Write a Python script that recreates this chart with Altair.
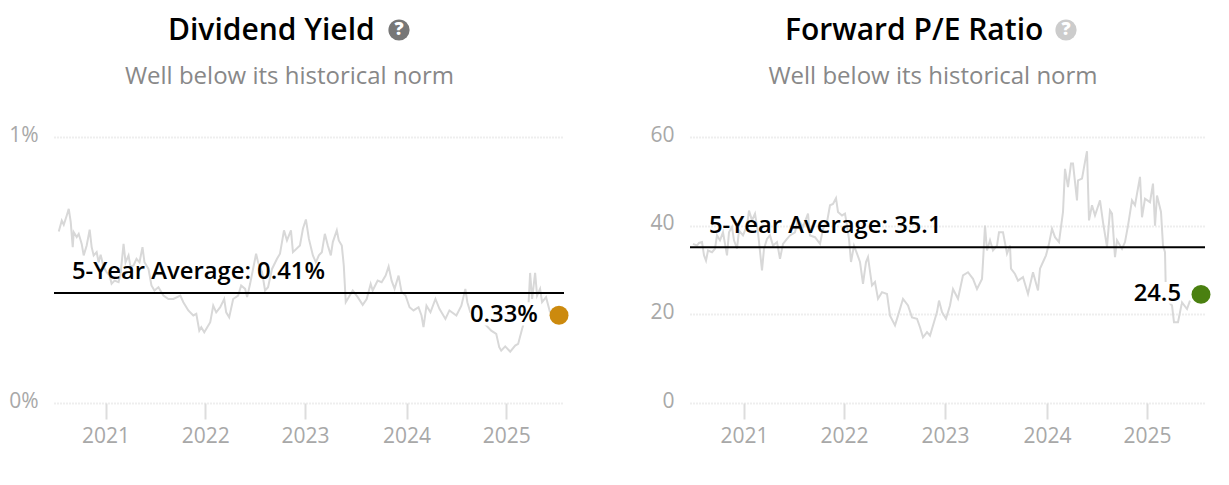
import altair as alt
import pandas as pd

FONT = "Open Sans"

div_year = [2020.53,2020.56,2020.58,2020.61,2020.63,2020.65,2020.67,2020.68,2020.71,2020.73,2020.76,2020.78,2020.81,2020.84,2020.86,2020.88,2020.91,2020.93,2020.95,2020.98,
2021.01,2021.04,2021.06,2021.09,2021.13,2021.15,2021.18,2021.20,2021.23,2021.25,2021.28,2021.31,2021.34,2021.37,2021.39,2021.43,2021.46,2021.49,2021.53,2021.58,2021.63,2021.68,2021.75,2021.78,2021.83,2021.88,2021.91,2021.94,2021.96,2021.99,
2022.02,2022.05,2022.08,2022.11,2022.15,2022.19,2022.21,2022.24,2022.28,2022.33,2022.36,2022.40,2022.42,2022.45,2022.51,2022.53,2022.57,2022.60,2022.63,2022.67,2022.72,2022.75,2022.79,2022.82,2022.86,2022.88,2022.95,2022.98,
2023.01,2023.04,2023.08,2023.11,2023.14,2023.17,2023.20,2023.23,2023.26,2023.28,2023.32,2023.34,2023.37,2023.39,2023.41,2023.45,2023.48,2023.53,2023.58,2023.62,2023.66,2023.68,2023.73,2023.77,2023.81,2023.84,2023.87,2023.90,2023.94,2023.97,
2024.01,2024.05,2024.09,2024.14,2024.17,2024.19,2024.22,2024.26,2024.31,2024.35,2024.41,2024.45,2024.52,2024.57,2024.61,2024.63,2024.66,2024.82,2024.87,2024.92,2024.95,2024.97,
2025.01,2025.06,2025.11,2025.14,2025.18,2025.21,2025.24,2025.26,2025.28,2025.31,2025.33,2025.36,2025.38,2025.42,2025.46]
div_val = [.645,.686,.670,.705,.730,.680,.586,.642,.624,.636,.598,.555,.592,.652,.586,.555,.567,.529,.557,.511,
.492,.479,.448,.460,.454,.486,.598,.529,.555,.511,.517,.542,.529,.586,.529,.504,.442,.423,.435,.404,.391,.391,.404,.379,.348,.329,.335,.272,.285,.266,
.285,.304,.366,.341,.360,.391,.341,.322,.391,.404,.442,.429,.398,.448,.561,.529,.492,.423,.435,.504,.542,.561,.649,.611,.649,.567,.592,.655,
.690,.617,.555,.529,.555,.567,.636,.592,.555,.605,.649,.611,.592,.517,.379,.404,.423,.398,.369,.391,.448,.423,.460,.454,.479,.513,.460,.429,.479,.417,
.404,.360,.348,.360,.329,.285,.366,.341,.391,.354,.316,.348,.329,.366,.429,.379,.341,.291,.272,.260,.210,.197,
.213,.193,.216,.222,.279,.316,.341,.489,.391,.489,.404,.429,.379,.398,.341]

pe_year = [2020.49,2020.53,2020.55,2020.58,2020.60,2020.62,2020.64,2020.68,2020.71,2020.73,2020.76,2020.79,2020.83,2020.85,2020.88,2020.90,2020.93,2020.95,2020.99,
2021.03,2021.05,2021.08,2021.11,2021.14,2021.18,2021.20,2021.23,2021.26,2021.29,2021.33,2021.36,2021.39,2021.43,2021.46,2021.51,2021.54,2021.59,2021.64,2021.66,2021.71,2021.76,2021.79,2021.83,2021.86,2021.89,2021.92,2021.94,2021.98,
2022.01,2022.03,2022.05,2022.07,2022.10,2022.13,2022.16,2022.19,2022.22,2022.24,2022.28,2022.31,2022.34,2022.38,2022.43,2022.46,2022.51,2022.54,2022.59,2022.64,2022.68,2022.73,2022.76,2022.79,2022.83,2022.86,2022.89,2022.93,2022.95,2022.98,
2023.02,2023.06,2023.09,2023.14,2023.19,2023.24,2023.29,2023.33,2023.38,2023.39,2023.41,2023.43,2023.46,2023.49,2023.53,2023.55,2023.59,2023.63,2023.66,2023.67,2023.71,2023.74,2023.79,2023.84,2023.89,2023.94,2023.96,2023.99,
2024.02,2024.05,2024.08,2024.11,2024.15,2024.19,2024.21,2024.24,2024.27,2024.29,2024.33,2024.34,2024.38,2024.41,2024.43,2024.45,2024.48,2024.51,2024.56,2024.59,2024.63,2024.66,2024.68,2024.71,2024.73,2024.78,2024.81,2024.84,2024.88,2024.91,2024.96,2024.98,
2025.01,2025.06,2025.09,2025.11,2025.13,2025.17,2025.19,2025.21,2025.22,2025.28,2025.30,2025.34,2025.38,2025.43,2025.46]
pe_val = [35.9,35.5,36.1,36.3,33.3,32.1,34.4,34.0,34.8,37.8,36.7,38.5,33.3,38.5,39.7,36.7,34.8,38.9,37.8,
40.0,43.4,41.2,42.7,38.5,29.9,34.8,37.0,37.8,35.5,36.3,32.5,35.9,37.0,37.8,38.5,41.6,39.7,42.7,37.8,37.4,35.9,39.3,40.8,44.6,44.9,46.2,43.1,42.3,
42.7,40.0,37.0,31.8,35.5,33.7,31.8,26.9,31.8,32.9,26.5,27.3,23.5,25.0,24.6,19.7,17.5,19.7,23.5,22.0,19.3,19.0,17.1,14.8,16.0,15.2,17.5,20.5,23.1,20.5,
19.0,22.0,25.7,23.5,28.8,29.5,28.0,25.7,28.0,31.8,40.0,34.4,36.7,34.4,35.5,38.5,38.5,33.7,35.5,30.3,29.1,27.6,28.4,24.6,29.5,25.4,30.3,31.8,
33.3,35.9,39.3,37.4,36.3,43.1,52.8,48.7,54.0,54.0,45.7,50.2,50.6,54.4,56.8,41.2,44.6,42.3,45.7,40.8,35.2,43.4,42.7,32.9,36.7,34.8,36.3,40.0,45.7,44.6,51.0,41.9,
46.1,45.3,49.5,40.0,46.8,43.1,35.5,34.0,23.5,22.0,18.2,18.2,22.7,21.2,23.1]

LINE, GRID, AXIS = "#d8d8d8", "#dddddd", "#a8a8a8"


def panel(title, subtitle, year, val, avg, avg_label, avg_x, cur, cur_label, cur_year,
          label_x, bg_x, bg_x2, bg_y, bg_y2, dot_color, icon_color, icon_x, head_x, ydomain, yticks, yexpr,
          ticks, xdomain, width, title_dx):
    xs = alt.Scale(domain=xdomain, nice=False, zero=False)
    ys = alt.Scale(domain=ydomain, nice=False, zero=False)
    line = alt.Chart(pd.DataFrame({"x": year, "y": val})).mark_line(
        color=LINE, strokeWidth=2, interpolate="linear"
    ).encode(
        x=alt.X("x:Q", scale=xs, title=None, axis=alt.Axis(
            values=ticks, labelExpr="floor(datum.value)", grid=False, domain=False,
            tickColor=GRID, tickWidth=2, tickSize=16, labelColor=AXIS, labelFont=FONT,
            labelFontSize=21, labelPadding=6, labelFlush=False, labelOverlap=False)),
        y=alt.Y("y:Q", scale=ys, title=None, axis=alt.Axis(
            values=yticks, labelExpr=yexpr, grid=True, gridColor=GRID, gridDash=[1, 2], gridWidth=2,
            domain=False, ticks=False, labelColor=AXIS, labelFont=FONT, labelFontSize=21,
            labelPadding=16, labelOverlap=False, labelOffset=-2)),
    )
    rule = alt.Chart(pd.DataFrame({"x": [xdomain[0]], "x2": [xdomain[1]], "y": [avg]})).mark_rule(
        color="#000000", strokeWidth=2
    ).encode(x=alt.X("x:Q", scale=xs), x2="x2:Q", y=alt.Y("y:Q", scale=ys))
    avg_text = alt.Chart(pd.DataFrame({"x": [avg_x], "y": [avg], "t": [avg_label]})).mark_text(
        align="left", baseline="middle", dy=-21, font=FONT, fontSize=23.8, fontWeight=600, color="#000000"
    ).encode(x=alt.X("x:Q", scale=xs), y=alt.Y("y:Q", scale=ys), text="t:N")
    bg = alt.Chart(pd.DataFrame({"x": [bg_x], "x2": [bg_x2], "y": [bg_y], "y2": [bg_y2]})).mark_rect(
        color="#ffffff"
    ).encode(x=alt.X("x:Q", scale=xs), x2="x2:Q", y=alt.Y("y:Q", scale=ys), y2="y2:Q")
    cur_text = alt.Chart(pd.DataFrame({"x": [label_x], "y": [cur], "t": [cur_label]})).mark_text(
        align="right", baseline="middle", font=FONT, fontSize=23.8, fontWeight=600, color="#000000"
    ).encode(x=alt.X("x:Q", scale=xs), y=alt.Y("y:Q", scale=ys), text="t:N")
    dot = alt.Chart(pd.DataFrame({"x": [cur_year], "y": [cur]})).mark_circle(
        color=dot_color, opacity=1, size=360
    ).encode(x=alt.X("x:Q", scale=xs), y=alt.Y("y:Q", scale=ys))
    heading = alt.Chart(pd.DataFrame({"t": [title]})).mark_text(
        color="#000000", font=FONT, fontSize=30, fontWeight=600, baseline="middle", align="left"
    ).encode(x=alt.value(head_x), y=alt.value(-106), text="t:N")
    icon = alt.Chart(pd.DataFrame({"t": ["?"]})).mark_circle(color=icon_color, opacity=1, size=450, clip=False).encode(
        x=alt.value(icon_x), y=alt.value(-107))
    icon_q = alt.Chart(pd.DataFrame({"t": ["?"]})).mark_text(
        color="#ffffff", font=FONT, fontSize=18, fontWeight=800, baseline="middle", align="center"
    ).encode(x=alt.value(icon_x), y=alt.value(-107), text="t:N")
    return alt.layer(line, bg, rule, avg_text, cur_text, dot, heading, icon, icon_q).properties(
        width=width, height=266,
        title=alt.TitleParams(
            text=subtitle, anchor="middle", frame="group", dx=title_dx,
            font=FONT, fontSize=24, fontWeight=400, color="#888888",
            offset=-73,
        ),
    )


left = panel("Dividend Yield", "Well below its historical norm", div_year, div_val,
             0.414, "5-Year Average: 0.41%", 2020.662, 0.33, "0.33%", 2025.55,
             2025.338, 2024.66, 2025.34, 0.379, 0.291, "#cc8a0e", "#777777", 345, 114,
             [0, 1], [0, 1], "datum.value + '%'",
             [2021, 2022, 2023, 2024.02, 2025.02], [2020.482, 2025.60], 510, -19.5)
right = panel("Forward P/E Ratio", "Well below its historical norm", pe_year, pe_val,
              35.15, "5-Year Average: 35.1", 2020.65, 24.5, "24.5", 2025.57,
              2025.37, 2024.90, 2025.37, 27.3, 22.4, "#4a8010", "#cccccc", 376, 95,
              [0, 60], [0, 20, 40, 60], "datum.value",
              [2021, 2022, 2023.01, 2024.03, 2025.03], [2020.46, 2025.61], 515, -14.5)

chart = alt.hconcat(left, right, spacing=80).properties(
    padding={"left": 0, "top": 8, "right": 0, "bottom": 12}, background="#ffffff"
).configure_view(stroke=None)

chart.save("out.html", embed_options={"renderer": "svg", "actions": False})
